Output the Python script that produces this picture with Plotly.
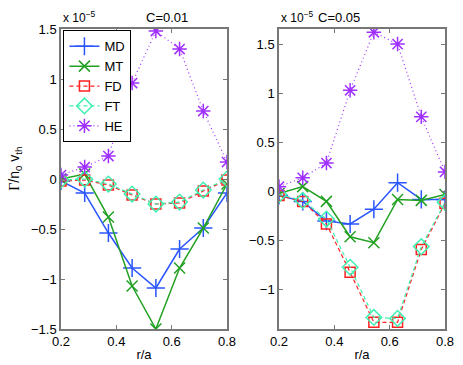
import plotly.graph_objects as go

r = [0.2, 0.2857, 0.3714, 0.4571, 0.5429, 0.6286, 0.7143, 0.8]

# values in units of 1e-5
md_01 = [-0.02, -0.14, -0.54, -0.89, -1.09, -0.70, -0.49, -0.14]
mt_01 = [0.0, 0.05, -0.38, -1.07, -1.50, -0.89, -0.49, -0.05]
fd_01 = [-0.02, -0.01, -0.06, -0.16, -0.25, -0.24, -0.12, -0.01]
ft_01 = [-0.01, 0.0, -0.05, -0.15, -0.25, -0.23, -0.11, 0.0]
he_01 = [0.04, 0.12, 0.23, 0.96, 1.48, 1.30, 0.68, 0.17]

md_05 = [-0.04, -0.10, -0.30, -0.33, -0.18, 0.09, -0.08, -0.08]
mt_05 = [-0.02, 0.05, -0.10, -0.46, -0.52, -0.08, -0.09, -0.03]
fd_05 = [-0.04, -0.10, -0.33, -0.82, -1.33, -1.33, -0.59, -0.12]
ft_05 = [-0.03, -0.09, -0.28, -0.77, -1.28, -1.29, -0.56, -0.11]
he_05 = [0.05, 0.14, 0.29, 1.03, 1.62, 1.50, 0.76, 0.20]

names = ['MD', 'MT', 'FD', 'FT', 'HE']
colors = ['#2a55ff', '#22a022', '#ff2020', '#40f0b0', '#a030ff']
symbols = ['cross-thin-open', 'x-thin-open', 'square-open', 'diamond-open', 'asterisk-open']
dashes = ['solid', 'solid', '4px,3px', '4px,3px', '1px,3px']
widths = [1.5, 1.5, 1.2, 1.2, 1.2]
sizes = [13, 11, 10, 12, 12]

fig = go.Figure()

panels = [
    ('x', 'y', [md_01, mt_01, fd_01, ft_01, he_01], True),
    ('x2', 'y2', [md_05, mt_05, fd_05, ft_05, he_05], False),
]
for xa, ya, series, show in panels:
    for i, vals in enumerate(series):
        fig.add_trace(go.Scatter(
            x=r, y=vals, xaxis=xa, yaxis=ya, name=names[i], showlegend=show,
            mode='lines+markers',
            line=dict(color=colors[i], width=widths[i], dash=dashes[i]),
            marker=dict(symbol=symbols[i], size=sizes[i], color=colors[i],
                        line=dict(color=colors[i], width=1.5)),
        ))

axis_style = dict(
    showline=True, mirror='ticks', linecolor='#777777', linewidth=1.5,
    ticks='inside', ticklen=4, tickcolor='#777777', showgrid=False, zeroline=False,
    automargin=False,
    tickfont=dict(family='Liberation Sans', size=13, color='black'),
)

fig.update_layout(
    width=463, height=365,
    margin=dict(l=0, r=0, t=0, b=0),
    plot_bgcolor='white', paper_bgcolor='white',
    font=dict(family='Liberation Sans', size=13, color='black'),
    xaxis=dict(domain=[0.1317, 0.4903], range=[0.2, 0.8], tickvals=[0.2, 0.4, 0.6, 0.8],
               title=dict(text='r/a', standoff=2, font=dict(size=13)), **axis_style),
    yaxis=dict(domain=[0.0986, 0.9205], range=[-1.5, 1.5],
               tickvals=[-1.5, -1, -0.5, 0, 0.5, 1, 1.5], **axis_style),
    xaxis2=dict(domain=[0.6026, 0.9611], range=[0.2, 0.8], tickvals=[0.2, 0.4, 0.6, 0.8],
                title=dict(text='r/a', standoff=2, font=dict(size=13)), anchor='y2', **axis_style),
    yaxis2=dict(domain=[0.0986, 0.9205], range=[-1.398, 1.653], anchor='x2',
                tickvals=[-1, -0.5, 0, 0.5, 1, 1.5], **axis_style),
    legend=dict(x=0.137, y=0.917, xanchor='left', yanchor='top',
                bgcolor='white', bordercolor='black', borderwidth=1,
                font=dict(size=13), tracegroupgap=0, itemwidth=30),
    annotations=[
        dict(text='C=0.01', x=(0.1317 + 0.4903) / 2, y=0.978, xref='paper', yref='paper',
             showarrow=False, yanchor='top', font=dict(size=13)),
        dict(text='C=0.05', x=(0.6026 + 0.9611) / 2, y=0.978, xref='paper', yref='paper',
             showarrow=False, yanchor='top', font=dict(size=13)),
        dict(text='x 10<sup>−5</sup>', x=0.1317, y=0.925, xref='paper', yref='paper',
             showarrow=False, xanchor='left', yanchor='bottom', font=dict(size=12)),
        dict(text='x 10<sup>−5</sup>', x=0.6026, y=0.925, xref='paper', yref='paper',
             showarrow=False, xanchor='left', yanchor='bottom', font=dict(size=12)),
        dict(text='<span style="font-family:Liberation Serif">Γ</span>/n<sub>0</sub> v<sub>th</sub>',
             x=0.032, y=0.537, xref='paper', yref='paper', xanchor='center', yanchor='middle',
             showarrow=False, textangle=-90, font=dict(size=14)),
    ],
)

fig.write_html("out.html", config=dict(displayModeBar=False),
               post_script="document.body.style.margin='0px';document.body.style.overflow='hidden';")
